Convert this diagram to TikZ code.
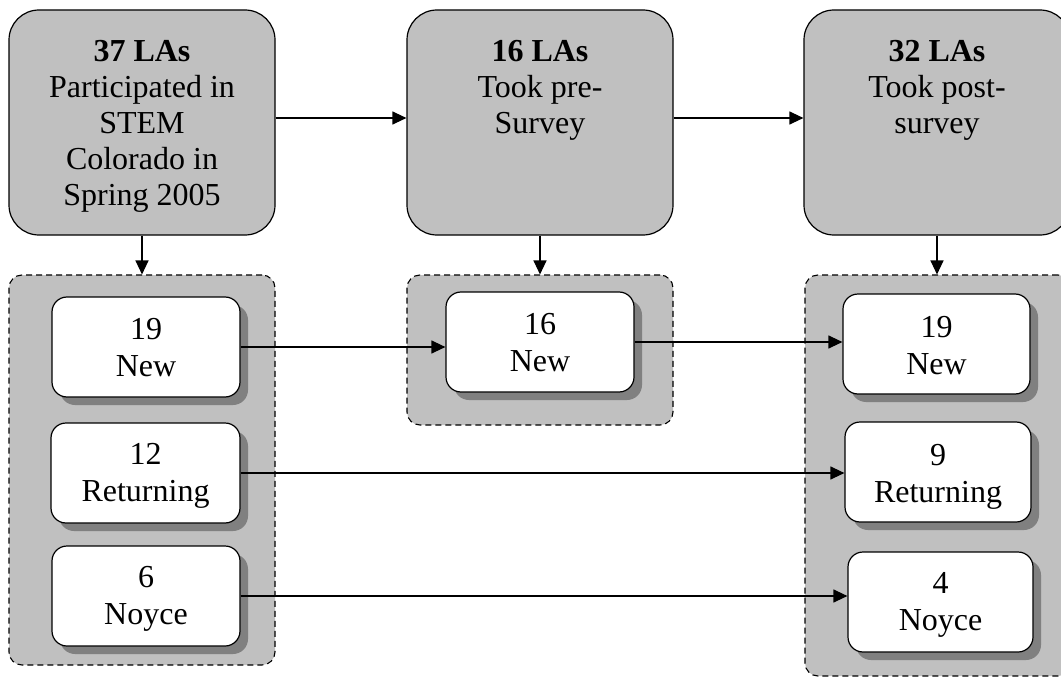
\documentclass[tikz,border=0pt]{standalone}
\usepackage{fontspec}
\setmainfont{Liberation Serif}
\usetikzlibrary{arrows.meta,shadows}
\tikzset{
  x=1pt, y=-1pt,
  bigbox/.style={draw=black, line width=1.2pt, fill=boxgray, rounded corners=30pt,
    minimum width=266pt, minimum height=225pt, inner sep=0pt},
  groupbox/.style={draw=black, line width=1.1pt, dash pattern=on 6pt off 4pt,
    fill=boxgray, rounded corners=13pt, minimum width=266pt, inner sep=0pt},
  smallbox/.style={draw=black, line width=1.2pt, fill=white, rounded corners=15pt,
    minimum height=100pt, inner sep=0pt,
    drop shadow={shadow xshift=8pt, shadow yshift=-8pt, fill=shadowgray, opacity=1}},
  label text/.style={anchor=north, align=center, inner sep=0pt,
    font=\fontsize{32}{36}\selectfont},
  count text/.style={anchor=north, align=center, inner sep=0pt,
    font=\fontsize{32}{37}\selectfont},
  flow/.style={line width=1.2pt, -{Triangle[length=14pt,width=13pt]}},
}
\definecolor{boxgray}{HTML}{C0C0C0}
\definecolor{shadowgray}{HTML}{808080}
\begin{document}
\begin{tikzpicture}
\useasboundingbox (0,0) rectangle (1061,677);

% dashed group panels
\node[groupbox, minimum height=390pt] (g1) at (142,470) {};
\node[groupbox, minimum height=150pt] (g2) at (540,350) {};
\node[groupbox, minimum height=401pt] (g3) at (938,475.5) {};

% stage boxes
\node[bigbox] (b1) at (142,122.5) {};
\node[bigbox] (b2) at (540,122.5) {};
\node[bigbox] (b3) at (937,122.5) {};
\node[label text] (t1) at (142,40) {\textbf{37 LAs}\\Participated in\\STEM\\Colorado in\\Spring 2005};
\node[label text] (t2) at (540,40) {\textbf{16 LAs}\\Took pre-\\Survey};
\node[label text] (t3) at (937,40) {\textbf{32 LAs}\\Took post-\\survey};

% group member boxes
\node[smallbox, minimum width=188pt] (ln) at (146,347) {};
\node[smallbox, minimum width=189pt] (lr) at (145.5,473) {};
\node[smallbox, minimum width=188pt] (ly) at (146,596) {};
\node[smallbox, minimum width=188pt] (mn) at (540,342) {};
\node[smallbox, minimum width=187pt] (rn) at (936.5,344) {};
\node[smallbox, minimum width=186pt] (rr) at (938,472) {};
\node[smallbox, minimum width=185pt] (ry) at (940.5,602) {};

\node[count text] (lnt) at (146,318) {19\\New};
\node[count text] (lrt) at (145.5,443) {12\\Returning};
\node[count text] (lyt) at (146,566) {6\\Noyce};
\node[count text] (mnt) at (540,313) {16\\New};
\node[count text] (rnt) at (936.5,316) {19\\New};
\node[count text] (rrt) at (938,444) {9\\Returning};
\node[count text] (ryt) at (940.5,572) {4\\Noyce};

% connectors between stages
\draw[flow] ([yshift=4.5pt]b1.east) -- ([yshift=4.5pt]b1.east -| b2.west);
\draw[flow] ([yshift=4.5pt]b2.east) -- ([yshift=4.5pt]b2.east -| b3.west);
\draw[flow] (b1.south) -- (g1.north);
\draw[flow] (b2.south) -- (g2.north);
\draw[flow] (b3.south) -- (b3.south |- g3.north);

% connectors between members
\draw[flow] (ln.east) -- (ln.east -| mn.west);
\draw[flow] (mn.east) -- (mn.east -| rn.west);
\draw[flow] (lr.east) -- (lr.east -| rr.west);
\draw[flow] (ly.east) -- (ly.east -| ry.west);
\end{tikzpicture}
\end{document}
